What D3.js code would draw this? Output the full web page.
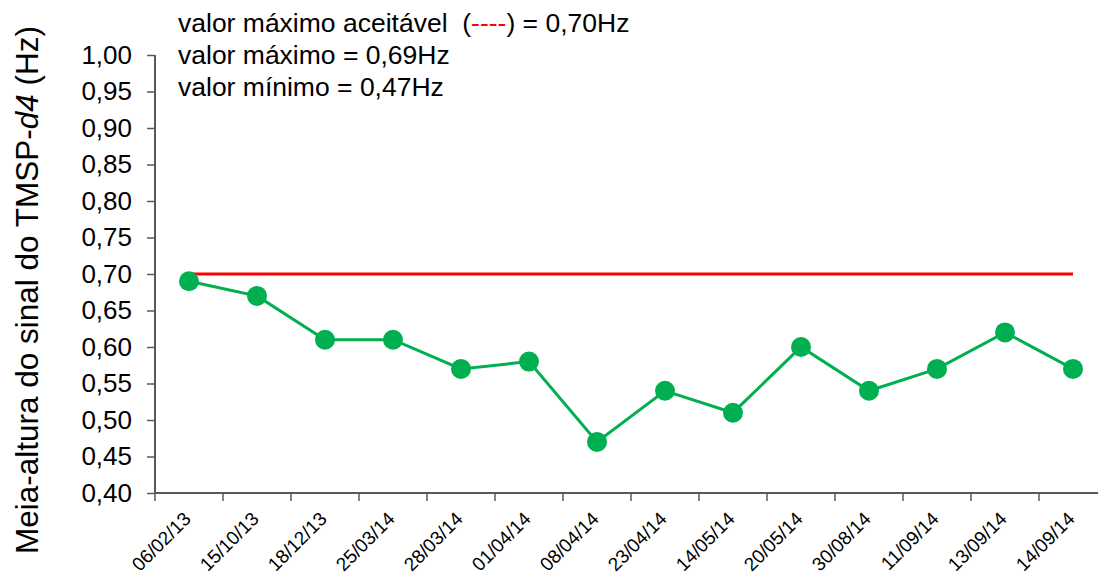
<!DOCTYPE html>
<html><head><meta charset="utf-8">
<script src="https://cdn.jsdelivr.net/npm/d3@7"></script>
<style>body{margin:0;background:#fff}svg{display:block;font-family:"Liberation Sans",Arial,sans-serif}</style>
</head><body><svg id="c" width="1098" height="576"></svg>
<script>
const categories = ["06/02/13","15/10/13","18/12/13","25/03/14","28/03/14","01/04/14","08/04/14","23/04/14","14/05/14","20/05/14","30/08/14","11/09/14","13/09/14","14/09/14"];
const values = [0.69,0.67,0.61,0.61,0.57,0.58,0.47,0.54,0.51,0.60,0.54,0.57,0.62,0.57];
const limitValue = 0.70;
const yTicks = [0.40,0.45,0.50,0.55,0.60,0.65,0.70,0.75,0.80,0.85,0.90,0.95,1.00];
const notes = ["valor máximo = 0,69Hz","valor mínimo = 0,47Hz"];

(function(){
const svg = d3.select("#c");
const mLeft = 155, mTop = 55, mBottom = 493, step = 68;
const x = d3.scaleBand().domain(categories).range([mLeft, mLeft + step*categories.length]);
const y = d3.scaleLinear().domain([0.4,1.0]).range([mBottom, mTop]);
const fmt = v => d3.format(".2f")(v).replace(".", ",");
const axisColor = "#595959";

// y axis
const ya = svg.append("g").attr("transform",`translate(${mLeft},0)`)
  .call(d3.axisLeft(y).tickValues(yTicks).tickFormat(fmt).tickSize(8).tickPadding(15));
ya.select(".domain").attr("stroke",axisColor).attr("stroke-width",2).attr("d",`M0,${mTop}V${mBottom}`);
ya.selectAll(".tick line").attr("stroke",axisColor).attr("stroke-width",1.5);
ya.selectAll(".tick text").attr("font-size",26).attr("fill","#000").attr("font-family","Liberation Sans, Arial, sans-serif");

// x axis
const xa = svg.append("g").attr("transform",`translate(0,${mBottom})`);
xa.append("line").attr("x1",mLeft).attr("x2",1098).attr("stroke",axisColor).attr("stroke-width",2);
const bounds = categories.map(c => x(c));
xa.selectAll("line.t").data(bounds).enter().append("line").attr("class","t")
  .attr("x1",d=>d).attr("x2",d=>d).attr("y1",0).attr("y2",8).attr("stroke",axisColor).attr("stroke-width",1.5);
xa.selectAll("text").data(categories).enter().append("text")
  .attr("transform",d=>`translate(${x(d)+x.bandwidth()/2+3},${27}) rotate(-45)`)
  .attr("text-anchor","end").attr("font-size",19).attr("fill","#000").text(d=>d);

// limit line
svg.append("line").attr("x1",x(categories[0])+x.bandwidth()/2).attr("x2",x(categories[categories.length-1])+x.bandwidth()/2)
  .attr("y1",y(limitValue)).attr("y2",y(limitValue)).attr("stroke","#ff0000").attr("stroke-width",3);

// series
const cx = (d,i)=>x(categories[i])+x.bandwidth()/2;
svg.append("path").datum(values).attr("fill","none").attr("stroke","#00b050").attr("stroke-width",3)
  .attr("d",d3.line().x(cx).y(d=>y(d)));
svg.selectAll("circle").data(values).enter().append("circle")
  .attr("cx",cx).attr("cy",d=>y(d)).attr("r",10).attr("fill","#00b050");

// notes
const t0 = svg.append("text").attr("x",178).attr("y",32).attr("font-size",26.5).attr("fill","#000").style("white-space","pre");
t0.append("tspan").text("valor máximo aceitável  (");
t0.append("tspan").attr("fill","#ff0000").text("----");
t0.append("tspan").text(") = 0,70Hz");
notes.forEach((n,i)=>svg.append("text").attr("x",178).attr("y",64+i*32).attr("font-size",26.5).attr("fill","#000").text(n));

// y label
const yl = svg.append("text").attr("transform","translate(38,290) rotate(-90)").attr("text-anchor","middle")
  .attr("font-size",31.5).attr("fill","#000");
yl.append("tspan").text("Meia-altura do sinal do TMSP-");
yl.append("tspan").attr("font-style","italic").text("d4");
yl.append("tspan").text(" (Hz)");
})();
</script></body></html>
